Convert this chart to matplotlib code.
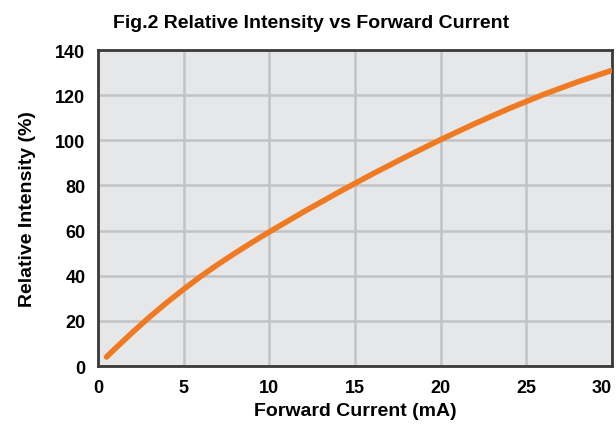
import matplotlib.pyplot as plt

# values
current_ma = [0.5, 1, 2, 3, 4, 5, 6, 7, 8, 9, 10, 12, 14, 16, 18, 20, 22, 24, 26, 28, 30]
intensity_pct = [4, 7.7, 14.8, 21.6, 28, 34, 39.7, 45, 50, 54.8, 59.4, 68.3, 76.8, 85,
                 92.8, 100.3, 107.4, 114.1, 120.3, 125.9, 131]

x_ticks = [0, 5, 10, 15, 20, 25, 30]
y_ticks = [0, 20, 40, 60, 80, 100, 120, 140]

plt.rcParams['font.family'] = ['Liberation Sans', 'DejaVu Sans']
plt.rcParams['font.weight'] = 'bold'

fig = plt.figure(figsize=(6.16, 4.27), dpi=100)
ax = fig.add_axes([0.159, 0.1405, 0.8345, 0.740])
ax.set_facecolor('#e6e7e8')

ax.plot(current_ma, intensity_pct, color='#f07a21', linewidth=4, solid_capstyle='round', zorder=3)

ax.set_xlim(0, 30)
ax.set_ylim(0, 140)
ax.set_xticks(x_ticks)
ax.set_yticks(y_ticks)
ax.grid(True, color='#c2c3c5', linewidth=1.8)
ax.set_axisbelow(True)
ax.tick_params(length=0, labelsize=13, pad=9)
# last x label sits against the figure edge, as in the original
ax.get_xticklabels()[-1].set_horizontalalignment('right')
for s in ax.spines.values():
    s.set_color('#3a3a3a')
    s.set_linewidth(2)

ax.set_xlabel('Forward Current (mA)', fontsize=14, fontweight='bold', labelpad=5)
ax.set_ylabel('Relative Intensity (%)', fontsize=14, fontweight='bold', labelpad=14)
fig.text(0.505, 0.945, 'Fig.2 Relative Intensity vs Forward Current', ha='center', va='center',
         fontsize=14, fontweight='bold')

fig.savefig('out.png', dpi=100)
